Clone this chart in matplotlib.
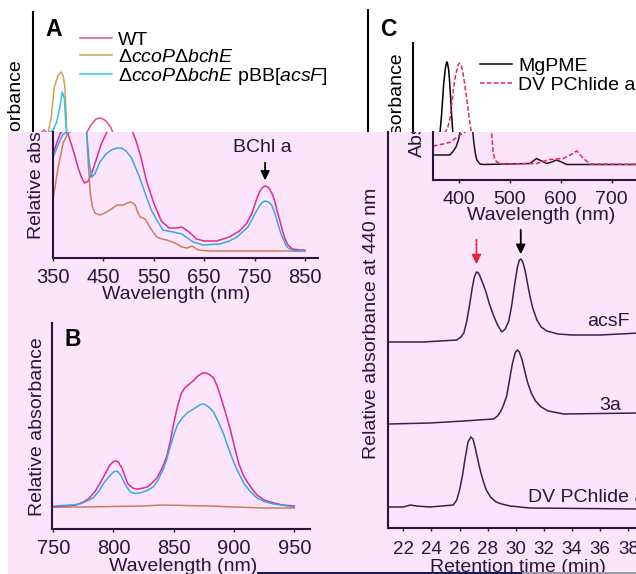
import matplotlib
matplotlib.use("Agg")
import matplotlib.pyplot as plt
from matplotlib.transforms import Affine2D, Bbox
from matplotlib.patches import Rectangle

plt.rcParams["font.family"] = "Liberation Sans"
plt.rcParams["mathtext.fontset"] = "custom"
plt.rcParams["mathtext.rm"] = "Liberation Sans"
plt.rcParams["mathtext.it"] = "Liberation Sans:italic"

W, H = 636, 574
CUT = 132    # row where the pink screenshot starts
SHIFT = 20   # the white strip above it is the same figure moved left

# ---- A: whole-cell spectra (relative absorbance, arbitrary units) ----
wt_nm = [350, 358, 365, 372, 380, 390, 400, 407, 413, 420, 427, 435, 445, 455, 465, 475,
         485, 495, 505, 515, 525, 535, 550, 565, 580, 595, 606, 620, 635, 650, 675, 700,
         720, 735, 745, 755, 760, 765, 770, 775, 780, 786, 790, 795, 800, 805, 810, 815,
         825, 840, 850]
wt_abs = [104, 116, 125, 128, 124, 108, 90, 80, 75, 77, 85, 97, 113, 124, 133, 139,
          140, 137, 130, 117, 100, 78, 55, 37, 30, 30, 31, 26, 19, 17, 17, 21,
          27, 35, 45, 60, 66, 70, 72, 71.5, 69, 63, 57, 47, 38, 28, 20, 14,
          9, 8, 8]

acsf_nm = [350, 360, 370, 380, 390, 397, 403, 408, 412, 415, 418, 422, 427, 433, 443, 455,
           466, 477, 486, 495, 506, 520, 532, 545, 556, 568, 588, 606, 628, 648, 681, 700,
           715, 737, 755, 760, 765, 770, 775, 780, 784, 788, 792, 796, 800, 804, 808, 812,
           817, 830, 850]
acsf_abs = [100, 113, 124, 125, 128, 136, 150, 166, 160, 135, 118, 95, 81, 84, 96, 104,
            108, 110, 110, 107, 100, 83, 66, 48, 38, 28, 26, 24, 16, 13, 14, 17,
            21, 31, 48, 52, 55.5, 57, 56.5, 55, 53, 48, 42, 35, 28, 22, 18, 13,
            10, 7, 7]

mut_nm = [350, 360, 370, 380, 386, 392, 400, 406, 410, 413, 415, 417, 420, 424, 428, 433,
          443, 453, 463, 477, 489, 498, 503, 508, 513, 518, 523, 533, 542, 550, 556, 566,
          576, 592, 606, 616, 626, 638, 660, 850]
mut_abs = [58, 90, 115, 125, 140, 170, 183, 186, 182, 172, 153, 126, 95, 65, 52, 45,
           43, 45, 48, 53, 53, 55, 56, 55, 53, 46, 41, 39, 31, 25, 21, 19,
           18, 15, 11, 10, 12, 8, 7, 7]

# ---- B: near-IR spectra ----
b_wt_nm = [750, 760, 769, 775, 780, 785, 789, 793, 797, 800, 802, 804, 807, 810, 812, 816,
           819, 823, 828, 832, 836, 840, 844, 847, 850, 853, 856, 859, 862, 866, 870, 874,
           877, 880, 883, 886, 889, 893, 897, 900, 904, 908, 911, 915, 919, 925, 933, 940,
           950]
b_wt = [22, 23, 24, 27, 31, 38, 46, 55, 64, 67.5, 68, 67, 61, 51, 45, 41,
        40, 40.5, 42, 46, 51, 60, 72, 87, 106, 122, 135, 141, 144, 148, 153, 156,
        156, 154, 151, 143, 132, 116, 99, 84, 65, 53, 47, 40, 34, 29, 26, 24,
        23]
b_acsf_nm = [750, 765, 772, 778, 783, 788, 792, 796, 800, 803, 806, 808, 811, 814, 818, 822,
             827, 833, 837, 841, 844, 847, 850, 853, 857, 861, 865, 869, 872, 875, 879, 883,
             887, 891, 895, 899, 903, 908, 913, 919, 926, 933, 950]
b_acsf = [23, 24, 25, 28, 31, 38, 46, 52, 57, 58, 54, 49, 42, 37, 35.5, 36,
          38, 42, 49, 59, 69, 82, 94, 104, 111, 116, 119, 122, 124.5, 125, 122, 117,
          107, 96, 82, 69, 58, 46, 38, 31, 27, 25, 22]
b_mut_nm = [750, 775, 800, 825, 840, 860, 880, 900, 925, 950]
b_mut = [22, 22, 22.5, 23, 24, 23.5, 23, 22, 21, 21]

# ---- C: HPLC traces (retention time, min) ----
c_acsf_t = [21.0, 23.4, 25.8, 26.1, 26.3, 26.5, 26.7, 26.9, 27.05, 27.2, 27.35, 27.5, 27.7,
            27.9, 28.1, 28.4, 28.7, 29.0, 29.25, 29.5, 29.7, 29.9, 30.1, 30.25, 30.35, 30.5,
            30.65, 30.8, 31.0, 31.2, 31.5, 31.8, 32.2, 33.0, 34.0, 36.0, 38.8]
c_acsf = [186, 186, 188, 191, 195, 206, 222, 240, 251, 256, 255, 250, 243,
          235, 225, 213, 203, 196, 199, 207, 222, 242, 260, 268, 269, 266,
          258, 247, 232, 220, 208, 201, 197, 194, 193, 193, 195]
c_3a_t = [21.0, 23.9, 26.3, 28.4, 28.7, 28.9, 29.1, 29.35, 29.55, 29.75, 29.95, 30.1, 30.25,
          30.45, 30.65, 30.85, 31.1, 31.4, 31.8, 32.3, 33.4, 38.8]
c_3a = [104, 105, 107, 109, 112, 116, 122, 132, 148, 164, 175, 178, 176,
        168, 156, 145, 135, 127, 121, 117, 114, 115]
c_dv_t = [21.0, 22.0, 22.5, 22.95, 23.9, 25.55, 25.8, 26.0, 26.2, 26.4, 26.6, 26.8, 26.95,
          27.1, 27.3, 27.5, 27.7, 27.9, 28.2, 28.6, 29.0, 29.6, 31.0, 38.8]
c_dv = [21, 21, 23, 22, 21, 23, 28, 38, 52, 70, 86, 91, 89,
        81, 68, 56, 46, 38, 31, 26, 24, 22, 20, 19]

# ---- C inset: standards ----
mg_nm = [350, 383, 390, 395, 400, 403, 406, 408, 410, 413, 415, 416, 417.5, 420, 422, 424,
         426, 428, 430, 432, 434, 436, 442, 450, 540, 553, 563, 573, 583, 592, 602, 612, 800]
mg_abs = [25, 25, 29, 33, 40, 48, 65, 80, 95, 110, 116, 118, 117, 110, 97, 80,
          63, 48, 38, 30, 24, 20, 16, 15.5, 16.5, 21.5, 19, 16.5, 18, 20, 18, 15.5, 15.5]
pc_nm = [350, 370, 385, 395, 403, 413, 418, 423, 426, 429, 432, 436, 438.5, 441, 444, 447,
         451, 455, 458, 460, 462, 465, 466.5, 468, 471, 475, 488, 553, 579, 605, 619, 632,
         645, 658, 800]
pc_abs = [34, 36, 38, 42, 45, 48, 52, 63, 76, 90, 101, 110, 115, 117, 115, 110,
          97, 83, 71, 63, 55, 47, 37, 27, 21, 18, 16, 16.5, 20.5, 21.5, 25, 29,
          21.5, 16, 15.5]

PINK = "#fce4fb"
NAVY = "#25163c"
colors = {
    "strip": dict(wt="#e8499b", mut="#d3a152", acsf="#2fc6ec", mg="black", pc="#e8254f", trace="black"),
    "main": dict(wt="#e02a94", mut="#c97f5c", acsf="#3aa6e8", mg="#1e1428", pc="#e8254f", trace="#352450"),
}

fig = plt.figure(figsize=(W / 100, H / 100), dpi=100)


def make_axes(strip, box, xlim):
    left, top, right, bottom = box
    if strip:
        if top >= CUT:
            return None
        t, b, dx, z = top, CUT, -SHIFT, 0
    else:
        t, b, dx, z = max(top, CUT), bottom, 0, 2
    ax = fig.add_axes([(left + dx) / W, 1 - b / H, (right - left) / W, (b - t) / H], zorder=z)
    ax.set_xlim(xlim)
    ax.set_ylim(bottom - b, bottom - t)
    ax.patch.set_visible(False)
    ax.spines[["top", "right"]].set_visible(False)
    ax.set_yticks([])
    ink = "black" if strip else NAVY
    for s in ("left", "bottom"):
        ax.spines[s].set_linewidth(1.5)
        ax.spines[s].set_color(ink)
    if strip:
        ax.spines["bottom"].set_visible(False)
        ax.tick_params(bottom=False, labelbottom=False)
    return ax


def draw_layer(layer):
    strip = layer == "strip"
    dx = -SHIFT if strip else 0
    px = Affine2D().scale(1, -1).translate(dx, H)
    ink = "black" if strip else NAVY
    clip = Bbox([[0, H - CUT], [W, H]]) if strip else Bbox([[0, 0], [W, H - CUT]])
    c = colors[layer]
    lw = 1.1

    def ylabel(ax, text, x, y):
        ax.set_ylabel(text, fontsize=14, color=ink, va="center")
        ax.yaxis.set_label_coords(x, y, transform=px)
        ax.yaxis.label.set_clip_box(clip)

    def xticks(ax, ticks, size, pad):
        ax.set_xticks(ticks)
        ax.tick_params(axis="x", direction="out", length=2.5, width=1, colors=ink,
                       labelsize=size, pad=pad)

    def xlabel(ax, text, x, y):
        ax.set_xlabel(text, fontsize=14, color=ink)
        ax.xaxis.set_label_coords(x, y, transform=px)

    # panel A
    ax = make_axes(strip, (53, 12, 318, 258), (350, 876))
    ax.plot(wt_nm, wt_abs, color=c["wt"], lw=lw, label="WT")
    ax.plot(mut_nm, mut_abs, color=c["mut"], lw=lw, label=r"Δ$\mathit{ccoP}$Δ$\mathit{bchE}$")
    ax.plot(acsf_nm, acsf_abs, color=c["acsf"], lw=lw,
            label=r"Δ$\mathit{ccoP}$Δ$\mathit{bchE}$ pBB[$\mathit{acsF}$]")
    ylabel(ax, "Relative absorbance", 36.5, 150)
    if strip:
        ax.legend(loc="upper left", bbox_to_anchor=(100, 31), bbox_transform=px, frameon=False,
                  fontsize=14, handlelength=1.65, handletextpad=0.3, labelspacing=0.0,
                  borderpad=0, borderaxespad=0)
        ax.text(65, 18, "A", transform=px, fontsize=16.5, fontweight="bold", va="top", ha="left")
    else:
        xticks(ax, range(350, 851, 100), 14.5, 4.7)
        xlabel(ax, "Wavelength (nm)", 176, 286)
        ax.annotate("", xy=(771, 75), xytext=(771, 98),
                    arrowprops=dict(arrowstyle="-|>", color="black", lw=1.3, mutation_scale=13))
        ax.text(765, 111, "BChl a", fontsize=14, color=ink, ha="center", va="center")

    # panel B
    ax = make_axes(strip, (52, 323, 310, 529), (749, 963))
    if ax is not None:
        ax.plot(b_mut_nm, b_mut, color=c["mut"], lw=lw)
        ax.plot(b_wt_nm, b_wt, color=c["wt"], lw=lw)
        ax.plot(b_acsf_nm, b_acsf, color=c["acsf"], lw=lw)
        xticks(ax, range(750, 951, 50), 14.5, 4.7)
        xlabel(ax, "Wavelength (nm)", 183, 558)
        ylabel(ax, "Relative absorbance", 37.5, 427)
        ax.text(65, 328, "B", transform=px, fontsize=16.5, fontweight="bold", va="top", ha="left")

    # panel C, HPLC
    ax = make_axes(strip, (388, 10, 640, 528), (20.91, 38.83))
    if strip:
        ax.text(400, 18, "C", transform=px, fontsize=16.5, fontweight="bold", va="top", ha="left")
    else:
        for t, v in ((c_acsf_t, c_acsf), (c_3a_t, c_3a), (c_dv_t, c_dv)):
            ax.plot(t, v, color=c["trace"], lw=lw)
        xticks(ax, range(22, 39, 2), 13.5, 6.8)
        xlabel(ax, "Retention time (min)", 518, 559)
        ylabel(ax, "Relative absorbance at 440 nm", 371.5, 323.5)
        ax.text(38.1, 206, "acsF", fontsize=14, color=ink, ha="right", va="center")
        ax.text(37.5, 123, "3a", fontsize=14, color=ink, ha="right", va="center")
        ax.text(30.9, 31, "DV PChlide a", fontsize=14, color=ink, ha="left", va="center")
        ax.annotate("", xy=(27.2, 261), xytext=(27.2, 291),
                    arrowprops=dict(arrowstyle="-|>", color="#e8203a", lw=1.3,
                                    linestyle=(0, (1, 1)), mutation_scale=14))
        ax.annotate("", xy=(30.35, 271), xytext=(30.35, 301),
                    arrowprops=dict(arrowstyle="-|>", color="black", lw=1.3, mutation_scale=14))

    # panel C inset, absorbance of the standards
    ax = make_axes(strip, (433, 43, 662.5, 180), (350, 800))
    ax.plot(mg_nm, mg_abs, color=c["mg"], lw=lw, label="MgPME")
    ax.plot(pc_nm, pc_abs, color=c["pc"], lw=lw, ls=(0, (3, 1.5)), label="DV PChlide a")
    ylabel(ax, "Absorbance", 417.5, 105)
    if strip:
        ax.legend(loc="upper left", bbox_to_anchor=(500, 57), bbox_transform=px, frameon=False,
                  fontsize=14, handlelength=1.65, handletextpad=0.3, labelspacing=0.1,
                  borderpad=0, borderaxespad=0)
    else:
        xticks(ax, range(400, 801, 100), 14, 5.4)
        xlabel(ax, "Wavelength (nm)", 541.5, 207)
    return px


draw_layer("strip")
px = draw_layer("main")
fig.add_artist(Rectangle((8, CUT), W - 8, H - CUT, transform=px, facecolor=PINK,
                         edgecolor="none", zorder=1))
fig.add_artist(Rectangle((257, H), 265, -2.5, transform=px, facecolor="#1a1a50",
                         edgecolor="none", zorder=3))
fig.add_artist(Rectangle((522, H), W - 522, -2.5, transform=px, facecolor="#9a9aa8",
                         edgecolor="none", zorder=3))

fig.savefig("out.png", dpi=100)
